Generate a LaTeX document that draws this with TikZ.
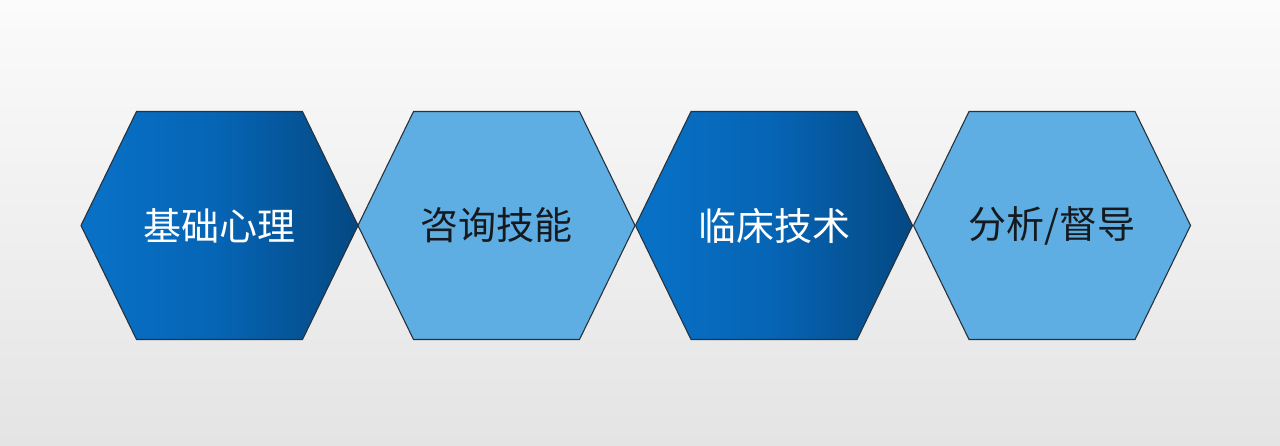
\documentclass[tikz,border=0pt]{standalone}
\usepackage{fontspec}
\newfontfamily\cjk{Noto Sans CJK SC}
\definecolor{bgtop}{RGB}{251,251,251}
\definecolor{bgbot}{RGB}{228,228,228}
\definecolor{darkL}{RGB}{8,114,200}
\definecolor{darkM}{RGB}{6,100,180}
\definecolor{darkR}{RGB}{4,72,130}
\definecolor{lightB}{RGB}{94,174,227}
\definecolor{edge}{RGB}{40,50,60}
\definecolor{txtdark}{RGB}{22,26,30}
\tikzset{
  hexdark/.style={draw=edge, line width=1.1pt, left color=darkL, right color=darkR, middle color=darkM},
  hexlight/.style={draw=edge, line width=1.1pt, fill=lightB},
  hexlabel/.style={font=\cjk\fontsize{38}{42}\selectfont, inner sep=0pt},
}
\newcommand{\hexpath}[1]{(#1)++(-138.5,0) -- ++(55.5,-114) -- ++(166,0) -- ++(55.5,114) -- ++(-55.5,114) -- ++(-166,0) -- cycle}
\begin{document}
\begin{tikzpicture}[x=1pt,y=-1pt]
\useasboundingbox (0,0) rectangle (1280,445);
\shade[top color=bgtop, bottom color=bgbot] (0,0) rectangle (1280,445);
\coordinate (c1) at (219.5,225.5);
\coordinate (c2) at (496.5,225.5);
\coordinate (c3) at (774,225.5);
\coordinate (c4) at (1052,225.5);
\path[hexdark] \hexpath{c1};
\path[hexlight] \hexpath{c2};
\path[hexdark] \hexpath{c3};
\path[hexlight] \hexpath{c4};
\node[hexlabel, text=white] (t1) at (c1) {基础心理};
\node[hexlabel, text=txtdark] (t2) at (c2) {咨询技能};
\node[hexlabel, text=white] (t3) at (c3) {临床技术};
\node[hexlabel, text=txtdark] (t4) at (c4) {分析/督导};
\end{tikzpicture}
\end{document}
